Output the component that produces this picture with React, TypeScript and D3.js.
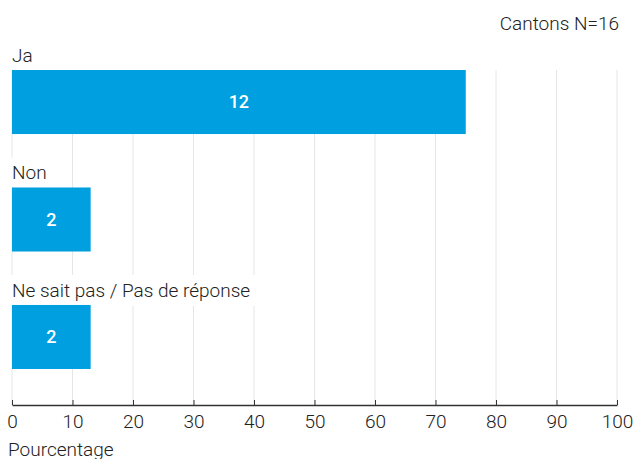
import React, { useEffect, useRef } from 'react';
import * as d3 from 'd3';

const categories = ['Ja', 'Non', 'Ne sait pas / Pas de réponse'];
const counts = [12, 2, 2];
const total = 16;
const xTicks = [0, 10, 20, 30, 40, 50, 60, 70, 80, 90, 100];
const title = 'Cantons N=16';
const xTitle = 'Pourcentage';

const App = () => {
  const svgRef = useRef<SVGSVGElement>(null);
  const totalWidth = 634;
  const totalHeight = 459;
  const font = 'Roboto, "Liberation Sans", sans-serif';
  const fs = 19;

  useEffect(() => {
    const root = d3.select(svgRef.current);
    root.selectAll('*').remove();
    const svg = root.append('g');

    const axisY = 405;
    const x = d3.scaleLinear().domain([0, 100]).range([12, 617]);
    const y = d3.scaleBand<string>()
      .domain(categories)
      .range([70, 369])
      .paddingInner(0.455)
      .paddingOuter(0);

    // percentages are shown rounded to whole numbers
    const data = categories.map((c, i) => ({ cat: c, n: counts[i], pct: Math.round(counts[i] / total * 100) }));

    // grid
    svg.append('g')
      .selectAll('line')
      .data(xTicks)
      .enter().append('line')
        .attr('x1', d => x(d)).attr('x2', d => x(d))
        .attr('y1', y(categories[0]) ?? 0).attr('y2', axisY)
        .attr('stroke', '#e6e6e6')
        .attr('stroke-width', 1);

    // category labels with white background
    const lab = svg.append('g')
      .selectAll('g')
      .data(data)
      .enter().append('g');
    const labText = lab.append('text')
      .attr('x', 12)
      .attr('y', d => (y(d.cat) ?? 0) - 8)
      .attr('font-family', font)
      .attr('font-size', fs)
      .attr('font-weight', 300)
      .attr('fill', '#222')
      .text(d => d.cat);
    labText.each(function () {
      const el = this as SVGTextElement;
      const bb = el.getBBox();
      d3.select(el.parentNode as SVGGElement).insert('rect', 'text')
        .attr('x', 0)
        .attr('y', bb.y - 4)
        .attr('width', bb.x + bb.width + 8)
        .attr('height', bb.height + 8)
        .attr('fill', 'white');
    });

    // bars
    svg.append('g')
      .selectAll('rect')
      .data(data)
      .enter().append('rect')
        .attr('x', x(0))
        .attr('y', d => y(d.cat) ?? 0)
        .attr('width', d => x(d.pct) - x(0))
        .attr('height', y.bandwidth())
        .attr('fill', '#009FDF');

    svg.append('g')
      .selectAll('text')
      .data(data)
      .enter().append('text')
        .attr('x', d => (x(0) + x(d.pct)) / 2)
        .attr('y', d => (y(d.cat) ?? 0) + y.bandwidth() / 2)
        .attr('dy', '0.35em')
        .attr('text-anchor', 'middle')
        .attr('font-family', font)
        .attr('font-size', 18)
        .attr('font-weight', 500)
        .attr('fill', 'white')
        .text(d => d.n);

    // x axis
    const ax = svg.append('g')
      .attr('transform', `translate(0, ${axisY})`)
      .call(d3.axisBottom(x).tickValues(xTicks).tickSize(-5).tickSizeOuter(0).tickPadding(10));
    ax.select('.domain').attr('stroke', '#333').attr('stroke-width', 1.5);
    ax.selectAll('.tick line').attr('stroke', '#333');
    ax.selectAll('.tick text')
      .attr('font-family', font)
      .attr('font-size', fs)
      .attr('font-weight', 300)
      .attr('fill', '#222');

    svg.append('text')
      .attr('x', 8)
      .attr('y', 456)
      .attr('font-family', font)
      .attr('font-size', fs)
      .attr('font-weight', 300)
      .attr('fill', '#222')
      .text(xTitle);

    svg.append('text')
      .attr('x', 619)
      .attr('y', 30)
      .attr('text-anchor', 'end')
      .attr('font-family', font)
      .attr('font-size', fs)
      .attr('font-weight', 300)
      .attr('fill', '#222')
      .text(title);
  }, []);

  return (
    <svg
      ref={svgRef}
      width={totalWidth}
      height={totalHeight}
      style={{ position: 'absolute', left: 0, top: 0, background: 'white' }}
    />
  );
};

export default App;
